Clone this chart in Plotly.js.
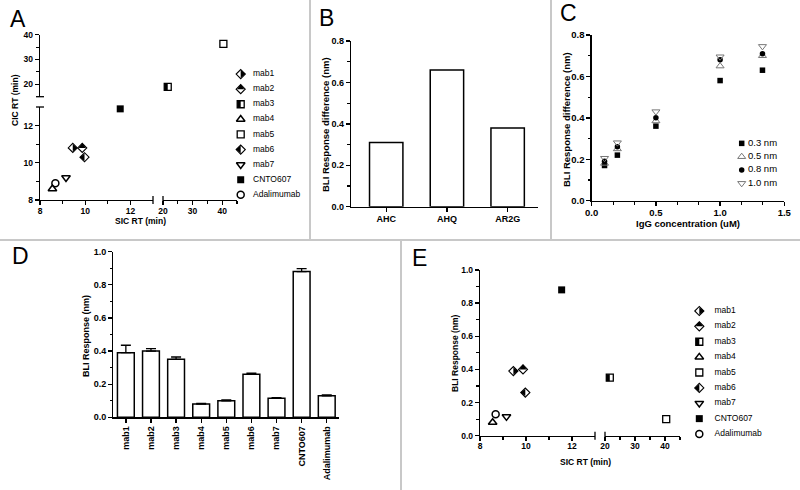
<!DOCTYPE html>
<html><head><meta charset="utf-8">
<script src="https://cdn.plot.ly/plotly-3.0.1.min.js"></script>
<style>html,body{margin:0;padding:0;background:#fff}#chart{width:800px;height:490px}</style>
</head><body><div id="chart"></div>
<script>
// ---------------- data ----------------
const seriesNames = ['mab1','mab2','mab3','mab4','mab5','mab6','mab7','CNTO607','Adalimumab'];
const sicRT = [9.45, 9.87, 21.6, 8.55, 40.4, 9.97, 9.15, 11.55, 8.68];
const cicRT = [10.8, 10.8, 19.0, 8.6, 36.3, 10.3, 9.2, 12.9, 8.9];
const bliResponse = [0.39, 0.40, 0.35, 0.08, 0.10, 0.26, 0.115, 0.88, 0.13];
const bliError = [0.045, 0.015, 0.014, 0.004, 0.005, 0.006, 0.003, 0.018, 0.005];

const mutantNames = ['AHC','AHQ','AR2G'];
const mutantDiff = [0.31, 0.66, 0.38];

const igGConc = [0.1, 0.2, 0.5, 1.0, 1.33];
const loadNames = ['0.3 nm','0.5 nm','0.8 nm','1.0 nm'];
const resp03 = [0.17, 0.22, 0.36, 0.58, 0.63];
const resp05 = [0.18, 0.25, 0.385, 0.65, 0.70];
const resp08 = [0.19, 0.26, 0.40, 0.68, 0.71];
const resp10 = [0.205, 0.28, 0.43, 0.695, 0.745];

const lowRange = [8, 13];
const highXRange = [20, 45];
const highYRange = [15, 40];
const lowTicks = [8, 10, 12];
const lowMinor = [9, 11];
const highTicks = [20, 30, 40];
const highMinor = [25, 35, 45];

// ---------------- helpers ----------------
const W = 800, H = 490;
const FONT = 'Liberation Sans, Arial, sans-serif';
const hx = p => p / W;
const vy = p => 1 - p / H;
const hdom = (a, b) => [hx(a), hx(b)];
const vdom = (bottom, top) => [vy(bottom), vy(top)];

function axis(extra, fs) {
  return Object.assign({
    showline: true, linecolor: '#000', linewidth: 1.3,
    ticks: 'outside', ticklen: 4, tickwidth: 1.3, tickcolor: '#000',
    showgrid: false, zeroline: false, fixedrange: true,
    tickfont: {family: FONT, size: fs || 9, weight: 'bold', color: '#000'}
  }, extra);
}
function minor(opts) {
  return Object.assign({ticks: 'outside', ticklen: 2.5, tickwidth: 1.1, tickcolor: '#000', showgrid: false}, opts);
}
const hidden = extra => Object.assign({visible: false, fixedrange: true, showgrid: false, zeroline: false}, extra);

// ---- marker styles (half-filled markers = filled half + open outline) ----
const DS = 7;     // diamond size
const SQ = 7;     // square size
const TRI = 6.4;  // half-diamond triangle size
const halfDiamond = angle => ({symbol: 'triangle-down', size: TRI, angle: angle, standoff: TRI / 4, color: '#000', line: {width: 0}});
const openDiamond = {symbol: 'diamond-open', size: DS, color: '#000', line: {color: '#000', width: 1.1}};
const halfSquareLeft = {symbol: 'line-ew', size: SQ / 1.4, angle: 90, standoff: SQ / 4, color: '#000', line: {color: '#000', width: SQ / 2}};
const openSquare = {symbol: 'square-open', size: SQ, color: '#000', line: {color: '#000', width: 1.3}};
const styles = [
  [halfDiamond(-90), openDiamond],                  // mab1: right half black
  [halfDiamond(180), openDiamond],                  // mab2: top half black
  [halfSquareLeft, openSquare],                     // mab3: left half black
  [{symbol: 'triangle-up-open', size: 7.5, color: '#000', line: {color: '#000', width: 1.5}}],
  [openSquare],
  [halfDiamond(90), openDiamond],                   // mab6: left half black
  [{symbol: 'triangle-down-open', size: 7.5, color: '#000', line: {color: '#000', width: 1.5}}],
  [{symbol: 'square', size: 7, color: '#000', line: {width: 0}}],
  [{symbol: 'circle-open', size: 7, color: '#000', line: {color: '#000', width: 1.5}}]
];

const traces = [];
function pushPoint(i, x, y, xa, ya) {
  styles[i].forEach(m => traces.push({type: 'scatter', mode: 'markers', x: [x], y: [y], marker: m,
    xaxis: xa, yaxis: ya, cliponaxis: false, hoverinfo: 'skip', showlegend: false, name: seriesNames[i]}));
}
function pushLabel(text, x, y, xa, ya, fs) {
  traces.push({type: 'scatter', mode: 'text', x: [x], y: [y], text: [text], textposition: 'middle right',
    textfont: {family: FONT, size: fs, color: '#000'}, xaxis: xa, yaxis: ya, cliponaxis: false, hoverinfo: 'skip', showlegend: false});
}

// ---------------- Panel A ----------------
seriesNames.forEach((n, i) => {
  const xa = sicRT[i] < lowRange[1] + 1 ? 'x' : 'x2';
  const ya = cicRT[i] < lowRange[1] + 0.5 ? 'y' : 'y2';
  pushPoint(i, sicRT[i], cicRT[i], xa, ya);
});
seriesNames.forEach((n, i) => { pushPoint(i, 0, i, 'x8', 'y8'); pushLabel(n, 1, i, 'x8', 'y8', 8.5); });

// ---------------- Panel B ----------------
traces.push({type: 'bar', x: mutantNames, y: mutantDiff, xaxis: 'x3', yaxis: 'y3', width: 0.55,
  marker: {color: '#fff', line: {color: '#000', width: 1.5}}, hoverinfo: 'skip', showlegend: false});

// ---------------- Panel C ----------------
const cSeries = [
  {y: resp03, marker: {symbol: 'square', size: 5.5, color: '#000'}},
  {y: resp05, marker: {symbol: 'triangle-up-open', size: 7, color: '#777', line: {color: '#777', width: 1}}},
  {y: resp08, marker: {symbol: 'circle', size: 5.5, color: '#000'}},
  {y: resp10, marker: {symbol: 'triangle-down-open', size: 7, color: '#777', line: {color: '#777', width: 1}}}
];
cSeries.forEach((s, k) => {
  traces.push({type: 'scatter', mode: 'markers', x: igGConc, y: s.y, marker: s.marker, xaxis: 'x4', yaxis: 'y4',
    cliponaxis: false, hoverinfo: 'skip', showlegend: false, name: loadNames[k]});
  traces.push({type: 'scatter', mode: 'markers', x: [0], y: [k], marker: s.marker, xaxis: 'x10', yaxis: 'y10',
    cliponaxis: false, hoverinfo: 'skip', showlegend: false});
  pushLabel(loadNames[k], 1, k, 'x10', 'y10', 9.5);
});

// ---------------- Panel D ----------------
traces.push({type: 'bar', x: seriesNames, y: bliResponse, xaxis: 'x5', yaxis: 'y5', width: 0.67,
  marker: {color: '#fff', line: {color: '#000', width: 1.5}},
  error_y: {type: 'data', array: bliError, arrayminus: bliError.map(() => 0), symmetric: false, color: '#000', thickness: 1.3, width: 5},
  hoverinfo: 'skip', showlegend: false});

// ---------------- Panel E ----------------
seriesNames.forEach((n, i) => {
  const xa = sicRT[i] < lowRange[1] + 1 ? 'x6' : 'x7';
  pushPoint(i, sicRT[i], bliResponse[i], xa, 'y6');
});
seriesNames.forEach((n, i) => { pushPoint(i, 0, i, 'x9', 'y9'); pushLabel(n, 1, i, 'x9', 'y9', 8.5); });

// ---------------- layout ----------------
const titleFont = fs => ({family: FONT, size: fs || 9, weight: 'bold', color: '#000'});
function ann(text, px, py, opts) {
  return Object.assign({text: text, x: hx(px), y: vy(py), xref: 'paper', yref: 'paper', showarrow: false,
    xanchor: 'center', yanchor: 'middle', font: titleFont()}, opts || {});
}
const letter = (t, px, py) => ann(t, px, py, {xanchor: 'left', font: {family: FONT, size: 23, color: '#000'}});

function pline(x0, y0, x1, y1, color, w) {
  return {type: 'line', xref: 'paper', yref: 'paper', x0: hx(x0), y0: vy(y0), x1: hx(x1), y1: vy(y1),
    line: {color: color || '#000', width: w || 1.3}};
}

const layout = {
  width: W, height: H, margin: {l: 0, r: 0, t: 0, b: 0},
  paper_bgcolor: '#fff', plot_bgcolor: 'rgba(0,0,0,0)', showlegend: false,
  font: {family: FONT, color: '#000'},
  // A
  xaxis: axis({domain: hdom(40, 153), range: lowRange, tickvals: lowTicks, anchor: 'y', ticklabelstandoff: -2, minor: minor({tickvals: lowMinor})}, 8.5),
  xaxis2: axis({domain: hdom(163, 237), range: highXRange, tickvals: highTicks, anchor: 'y', ticklabelstandoff: -2, minor: minor({tickvals: highMinor})}, 8.5),
  yaxis: axis({domain: vdom(200, 107), range: lowRange, tickvals: lowTicks, anchor: 'x', minor: minor({tickvals: lowMinor})}, 8.5),
  yaxis2: axis({domain: vdom(96.7, 34.7), range: highYRange, tickvals: highTicks, anchor: 'x', minor: minor({tickvals: [25, 35]})}, 8.5),
  // B
  xaxis3: axis({domain: hdom(351, 538), type: 'category', range: [-0.58, 2.5], anchor: 'y3', ticklabelstandoff: -1}, 9),
  yaxis3: axis({domain: vdom(206.7, 41), range: [0, 0.8], dtick: 0.2, tickformat: '.1f', anchor: 'x3', minor: minor({dtick: 0.1})}, 9),
  // C
  xaxis4: axis({domain: hdom(591.7, 784.3), range: [0, 1.5], dtick: 0.5, tickformat: '.1f', anchor: 'y4', ticklabelstandoff: -1, minor: minor({dtick: 0.5 / 3})}, 9.5),
  yaxis4: axis({domain: vdom(200.7, 35), range: [0, 0.8], dtick: 0.2, tickformat: '.1f', anchor: 'x4', minor: minor({dtick: 0.1})}, 9.5),
  // D
  xaxis5: axis({domain: hdom(113.3, 339.3), type: 'category', range: [-0.5, 8.5], anchor: 'y5', tickangle: -90}, 9),
  yaxis5: axis({domain: vdom(417.3, 251.7), range: [0, 1.0], dtick: 0.2, tickformat: '.1f', anchor: 'x5', minor: minor({dtick: 0.1})}, 9),
  // E
  xaxis6: axis({domain: hdom(480, 595), range: lowRange, tickvals: lowTicks, anchor: 'y6', ticklabelstandoff: -2, minor: minor({tickvals: lowMinor})}, 8.5),
  xaxis7: axis({domain: hdom(605, 680), range: highXRange, tickvals: highTicks, anchor: 'y6', ticklabelstandoff: -2, minor: minor({tickvals: highMinor})}, 8.5),
  yaxis6: axis({domain: vdom(435.7, 270), range: [0, 1.0], dtick: 0.2, tickformat: '.1f', anchor: 'x6', minor: minor({dtick: 0.1})}, 8.5),
  // legends
  xaxis8: hidden({domain: hdom(240.7, 253), range: [0, 1], anchor: 'y8'}),
  yaxis8: hidden({domain: vdom(202.4, 66.5), range: [8.5, -0.5], anchor: 'x8'}),
  xaxis9: hidden({domain: hdom(699.3, 714.5), range: [0, 1], anchor: 'y9'}),
  yaxis9: hidden({domain: vdom(441.7, 303.3), range: [8.5, -0.5], anchor: 'x9'}),
  xaxis10: hidden({domain: hdom(741.7, 748), range: [0, 1], anchor: 'y10'}),
  yaxis10: hidden({domain: vdom(190, 136.7), range: [3.5, -0.5], anchor: 'x10'}),
  annotations: [
    letter('A', 8, 19), letter('B', 317, 18.3), letter('C', 558, 13.3), letter('D', 10, 255.5), letter('E', 410, 257.5),
    ann('CIC RT (min)', 15, 100, {textangle: -90, font: titleFont(8.5)}),
    ann('SIC RT (min)', 140, 221, {font: titleFont(8.5)}),
    ann('BLI Response difference (nm)', 326, 125, {textangle: -90, font: titleFont(9.5)}),
    ann('BLI Response difference (nm)', 566, 120, {textangle: -90, font: titleFont(9.5)}),
    ann('IgG concentration (uM)', 688, 223, {font: titleFont(9.5)}),
    ann('BLI Response (nm)', 86, 336, {textangle: -90, font: titleFont(9)}),
    ann('BLI Response (nm)', 455, 353, {textangle: -90, font: titleFont(8.5)}),
    ann('SIC RT (min)', 585, 462, {font: titleFont(8.5)})
  ],
  shapes: [
    // panel dividers
    pline(310, 0, 310, 240, '#c8c8c8', 2), pline(551, 0, 551, 240, '#c8c8c8', 2),
    pline(0, 240, 800, 240, '#c8c8c8', 2), pline(401, 240, 401, 490, '#c8c8c8', 2),
    // axis break caps
    pline(153, 196, 153, 204), pline(163, 196, 163, 204),
    pline(36, 107, 44, 107), pline(36, 96.7, 44, 96.7),
    pline(595, 431.7, 595, 439.7), pline(605, 431.7, 605, 439.7)
  ]
};

Plotly.newPlot('chart', traces, layout, {displayModeBar: false, staticPlot: true});
</script>
</body></html>
